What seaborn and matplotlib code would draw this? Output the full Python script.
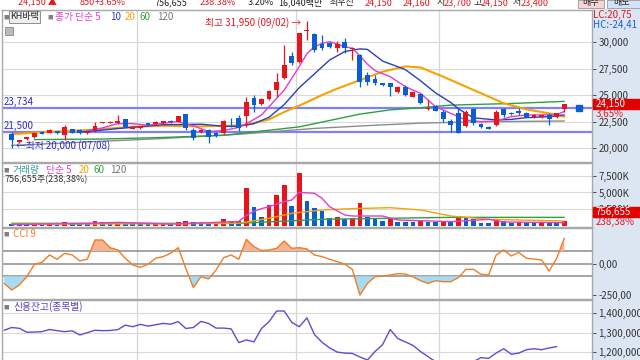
import matplotlib
matplotlib.use('Agg')
import matplotlib.pyplot as plt
import seaborn as sns
import numpy as np
from matplotlib.patches import Rectangle

# daily candles, index 0 = 07/08
opens = [21300, 20550, 20850, 21000, 21480, 21450, 21600, 21230, 21750, 21700,
         21400, 21700, 22400, 22400, 22350, 22700, 21800, 21850, 22330, 22250,
         22330, 22550, 22490, 23180, 21700, 21550, 21700, 21450, 21400, 22500,
         22800, 23050, 24690, 24120, 24630, 25470, 26580, 28710, 28150, 31050,
         30750, 29780, 29870, 29400, 30030, 29350, 28770, 26890, 26480, 26100,
         26170, 25320, 25790, 24850, 25070, 23700, 23970, 23370, 22580, 23270,
         22080, 23650, 22270, 22020, 22170, 23650, 23340, 23500, 23340, 22900,
         22900, 23120, 22900, 23700]
closes = [20750, 20750, 21000, 21450, 21330, 21700, 21400, 22000, 21450, 21400,
          21550, 22080, 22450, 22450, 22550, 22020, 22000, 22070, 22140, 22480,
          22520, 22420, 23020, 21860, 20920, 21700, 21000, 21130, 22550, 22420,
          21860, 24310, 24060, 24600, 25380, 26200, 27830, 28050, 30820, 31150,
          29250, 29400, 29560, 29780, 29400, 29420, 26260, 26260, 26100, 25950,
          25790, 25730, 25000, 25320, 24280, 23750, 23530, 22740, 22170, 21450,
          23430, 22330, 22020, 21800, 23430, 23120, 23180, 23270, 22960, 23120,
          23120, 22710, 23300, 24150]
highs = [21550, 20800, 21050, 21500, 21600, 21750, 21650, 22170, 21800, 21750,
         21600, 22490, 22500, 22550, 23100, 22750, 22050, 22100, 22400, 22550,
         22560, 22650, 23050, 23250, 21850, 21750, 21750, 21550, 22650, 22800,
         23120, 24850, 25000, 24700, 25450, 27050, 29720, 29030, 30820, 31950,
         30820, 30660, 30000, 30090, 30350, 29560, 28840, 27200, 26890, 26150,
         26170, 25850, 25950, 25320, 25100, 24530, 24050, 23590, 22710, 23650,
         23590, 23750, 22400, 22050, 23590, 23750, 23400, 23750, 23400, 23180,
         23200, 23270, 23300, 24150]
lows = [20000, 20450, 20800, 20950, 21300, 21400, 21300, 20760, 21400, 21350,
        21350, 21550, 22350, 22350, 22300, 21950, 21750, 21800, 22100, 22200,
        22300, 22350, 22450, 21700, 20760, 21450, 20450, 21000, 21350, 22000,
        21600, 22020, 23430, 24050, 24550, 24850, 26510, 27830, 27990, 30190,
        29090, 29250, 29400, 29090, 28930, 28300, 25790, 25950, 25950, 25850,
        24910, 25160, 24910, 24850, 24200, 23590, 23450, 22490, 21550, 21450,
        22020, 22170, 21900, 21750, 22110, 22960, 23100, 23120, 22900, 22850,
        22850, 22170, 22850, 23400]
volume_k = [260, 200, 180, 230, 200, 240, 200, 600, 350, 300,
            260, 760, 660, 300, 620, 450, 300, 280, 260, 300,
            330, 280, 600, 820, 650, 600, 420, 660, 1010, 760,
            750, 5620, 2890, 1300, 3140, 4630, 6120, 2990, 7850, 3730,
            2640, 2290, 1160, 1400, 1010, 1160, 3480, 1300, 1250, 810,
            1110, 660, 640, 620, 760, 610, 600, 660, 640, 1550,
            1160, 1010, 420, 410, 1060, 760, 420, 560, 510, 420,
            560, 420, 410, 757]

# price moving averages
ma5_x = [10, 12, 14, 16, 18, 20, 22, 24, 26, 28, 30, 31, 32, 33, 34, 35, 36, 37, 38, 39, 40,
         41, 42, 43, 44, 45, 46, 47, 48, 50, 52, 54, 56, 58, 60, 62, 64, 66, 68, 70, 72, 73]
ma5_y = [21650, 21900, 22300, 22300, 22150, 22330, 22500, 22100, 21550, 21650, 21950, 22300,
         22700, 23120, 23900, 24690, 25470, 26580, 27700, 28900, 29550, 29870, 30030, 29800,
         29560, 29400, 28700, 27900, 27300, 26730, 25790, 25160, 23900, 23270, 22650, 22490,
         22550, 22960, 23120, 23120, 23150, 23450]
ma10_x = [9, 15, 20, 25, 28, 30, 32, 34, 36, 38, 40, 42, 44, 46, 47, 49, 52, 54, 56, 58,
          59, 61, 64, 66, 68, 71, 73]
ma10_y = [21500, 21900, 22200, 22250, 22050, 22050, 22300, 22900, 24100, 25700, 27000, 28300,
          29100, 29350, 29300, 28200, 27400, 26350, 25200, 24300, 23700, 22850, 22650, 22700,
          22870, 22960, 23120]
ma20_x = [0, 3, 10, 16, 20, 25, 29, 31, 34, 36, 38, 41, 43, 46, 49, 52, 54, 57, 60, 63,
          65, 68, 71, 73]
ma20_y = [21300, 21450, 21700, 22000, 22100, 22050, 22100, 22200, 22700, 23400, 24000, 25000,
          25600, 26400, 27200, 27700, 27600, 26730, 25790, 24850, 24220, 23650, 23270, 22960]
ma60_x = [3, 12, 20, 28, 33, 38, 42, 46, 50, 54, 58, 66, 73]
ma60_y = [20800, 20850, 21000, 21200, 21600, 22000, 22600, 23200, 23600, 23800, 24050, 24200, 24400]
ma120_x = [0, 20, 30, 40, 48, 54, 62, 73]
ma120_y = [20250, 20900, 21300, 21850, 22150, 22350, 22480, 22550]

# volume moving averages (K)
vma5_x = [0, 10, 14, 17, 21, 26, 30, 31, 32, 33, 34, 36, 37, 38, 40, 41, 42, 44, 45, 49,
          51, 58, 63, 65, 73]
vma5_y = [230, 400, 560, 450, 300, 500, 700, 1600, 2200, 2600, 2890, 3640, 3880, 5020, 4880,
          4130, 2890, 1650, 1500, 1500, 910, 660, 1010, 610, 510]
vma20_x = [0, 20, 30, 34, 37, 41, 45, 50, 54, 58, 63, 73]
vma20_y = [300, 330, 410, 1160, 1900, 2400, 2600, 2740, 2400, 1500, 1010, 760]
vma60_x = [0, 30, 41, 58, 73]
vma60_y = [410, 410, 1010, 1300, 1300]

# CCI 9, index -1 .. 73
cci = [-156, -209, -169, -103, -5, 11, 69, 35, 82, 69,
       22, 37, 188, 188, 127, 109, 43, -10, -29, -5,
       43, 56, 82, 127, -37, -190, -103, -121, -50, 48,
       69, 35, 193, 135, 104, 109, 122, 180, 122, 127,
       117, 69, 56, 35, 16, -3, -45, -249, -156, -103,
       -98, -90, -79, -82, -103, -135, -156, -135, -143, -143,
       -111, -45, -45, -84, -90, 69, 109, 61, 90, 43,
       37, 29, -58, 43, 201]
# credit balance, index -1 .. 72
credit = [1312000, 1326000, 1322000, 1302000, 1303000, 1305000, 1316000, 1310000, 1305000, 1309000,
          1288000, 1300000, 1312000, 1310000, 1311000, 1315000, 1338000, 1330000, 1342000, 1333000,
          1340000, 1347000, 1343000, 1356000, 1321000, 1326000, 1357000, 1347000, 1323000, 1323000,
          1319000, 1249000, 1263000, 1253000, 1321000, 1356000, 1410000, 1410000, 1352000, 1330000,
          1375000, 1290000, 1251000, 1222000, 1201000, 1196000, 1194000, 1176000, 1161000, 1204000,
          1239000, 1316000, 1270000, 1253000, 1235000, 1204000, 1178000, 1152000, 1130000, 1120000,
          1125000, 1140000, 1152000, 1173000, 1169000, 1196000, 1218000, 1190000, 1196000, 1213000,
          1218000, 1213000, 1222000, 1229000]

RED = '#e8141c'
BLUE = '#0a5fd0'
PINK = '#e23ccf'
NAVY = '#2b3fb8'
ORANGE = '#f5a300'
GREEN = '#2ea043'
GRAY = '#8c8c8c'
HLINE = '#7f7fff'

sns.set_theme(style='white')
plt.rcParams['font.family'] = ['Noto Sans CJK KR', 'DejaVu Sans']

fig = plt.figure(figsize=(6.4, 3.6), dpi=100)


def fx(x):
    return x / 640


def fy(y):
    return 1 - y / 360


def panel(top, bottom):
    ax = fig.add_axes([fx(2), fy(bottom), fx(590), (bottom - top) / 360])
    ax.set_xlim(-1.28, 76.66)
    ax.set_xticks([])
    ax.yaxis.tick_right()
    ax.tick_params(axis='y', length=3, width=0.6, pad=1.5, labelsize=7, colors='#333333')
    for s in ax.spines.values():
        s.set_color('#a8a8a8')
        s.set_linewidth(1.0)
    for m in [16.5, 37.5, 56.5]:
        ax.axvline(m, color='#d6d6d6', lw=0.9, zorder=0)
    return ax


# right axis strip
fig.patches.append(Rectangle((fx(592), 0), fx(48), fy(9), transform=fig.transFigure,
                             color='#dce6f2', zorder=-5))

# ---------- price panel ----------
ax1 = panel(10, 162)
ax1.set_ylim(18684, 33018)
pticks = [20000, 22500, 25000, 27500, 30000]
ax1.set_yticks(pticks)
ax1.set_yticklabels([f'{v:,}' for v in pticks])
for v in pticks:
    ax1.axhline(v, color='#d9d9d9', lw=0.8, zorder=0)

ax1.axhline(23734, color=HLINE, lw=1.6, zorder=1)
ax1.axhline(21500, color=HLINE, lw=1.6, zorder=1)

for xs, ys, c in [(ma120_x, ma120_y, GRAY), (ma60_x, ma60_y, GREEN), (ma20_x, ma20_y, ORANGE),
                  (ma10_x, ma10_y, NAVY), (ma5_x, ma5_y, PINK)]:
    sns.lineplot(x=xs, y=ys, ax=ax1, color=c, lw=1.0 if c != ORANGE else 1.5, zorder=2)

idx = np.arange(len(closes))
o = np.array(opens)
c = np.array(closes)
ccol = [RED if cc >= oo else BLUE for oo, cc in zip(o, c)]
ax1.vlines(idx, lows, highs, colors=ccol, lw=0.9, zorder=3)
ax1.bar(idx, np.maximum(np.abs(c - o), 70), bottom=np.minimum(o, c), width=0.64,
        color=ccol, lw=0, zorder=4)
ax1.plot([75], [23734], marker='s', ms=4, color=BLUE, zorder=4)

ax1.text(-1.1, 23734 + 120, '23,734', color='#2a2ad0', fontsize=7, va='bottom')
ax1.text(-1.1, 21500 + 120, '21,500', color='#2a2ad0', fontsize=7, va='bottom')
ax1.text(38.3, 31790, '최고 31,950 (09/02) →', ha='right', va='center', color=RED, fontsize=7)
ax1.text(0.6, 20190, '←최저 20,000 (07/08)', ha='left', va='center', color='#2a2ad0', fontsize=7)

# ---------- volume panel ----------
ax2 = panel(163, 227)
ax2.set_ylim(-134, 9389)
vticks = [2500, 5000, 7500]
ax2.set_yticks(vticks)
ax2.set_yticklabels([f'{v:,}K' for v in vticks])
for v in vticks:
    ax2.axhline(v, color='#d9d9d9', lw=0.8, zorder=0)
vol = np.array(volume_k)
vcol = [BLUE] + [RED if vol[i] >= vol[i - 1] else BLUE for i in range(1, len(vol))]
ax2.bar(idx, vol, width=0.62, color=vcol, lw=0, zorder=2)
for xs, ys, cl in [(vma60_x, vma60_y, GREEN), (vma20_x, vma20_y, ORANGE), (vma5_x, vma5_y, PINK)]:
    sns.lineplot(x=xs, y=ys, ax=ax2, color=cl, lw=1.0, zorder=3)

# ---------- CCI panel ----------
ax3 = panel(228, 299)
ax3.set_ylim(-280, 283)
ax3.set_yticks([0, -250])
ax3.set_yticklabels(['0,00', '-250,00'])
for v in [100, 0, -100]:
    ax3.axhline(v, color='#8c8c8c', lw=1.1, zorder=1)
cx = np.arange(-1, len(cci) - 1)
cv = np.array(cci)
ax3.fill_between(cx, cv, 100, where=cv > 100, interpolate=True, color='#f7b28e', lw=0, zorder=2)
ax3.fill_between(cx, cv, -100, where=cv < -100, interpolate=True, color='#a6dcf2', lw=0, zorder=2)
sns.lineplot(x=cx, y=cv, ax=ax3, color='#f07d28', lw=1.0, zorder=3)

# ---------- credit panel ----------
ax4 = panel(300, 362)
ax4.set_ylim(1150500, 1466000)
kticks = [1200000, 1300000, 1400000]
ax4.set_yticks(kticks)
ax4.set_yticklabels([f'{v:,}' for v in kticks])
for v in kticks:
    ax4.axhline(v, color='#d9d9d9', lw=0.8, zorder=0)
sns.lineplot(x=np.arange(-1, len(credit) - 1), y=credit, ax=ax4, color='#5b4fd1', lw=1.0, zorder=3)

for a in (ax1, ax2, ax3, ax4):
    a.set_xlabel('')
    a.set_ylabel('')


# ---------- texts in figure pixels ----------
def t(x, y, s, color='#222222', size=7, **kw):
    fig.text(fx(x), fy(y), s, color=color, fontsize=size, va='center', **kw)


def box(x, y):
    t(x, y, '■', color='#808080', size=4)


# legends
box(3, 17)
t(10, 17, 'KH바텍', color='#222222', size=6.5,
  bbox=dict(boxstyle='square,pad=0.15', fc='#eeeeee', ec='#808080', lw=0.6))
box(47, 17)
t(55, 17, '종가 단순 5', color=PINK)
t(110, 17, '10', color=NAVY)
t(125, 17, '20', color=ORANGE)
t(140, 17, '60', color=GREEN)
t(157, 17, '120', color='#777777')
fig.patches.append(Rectangle((fx(5), fy(35)), fx(8), 8 / 360, transform=fig.transFigure,
                             fc='#bbbbbb', ec='#777777', lw=0.5, zorder=5))

box(3, 170)
t(13, 170, '거래량', color='#2aa0a0')
t(46, 170, '단순 5', color=PINK)
t(79, 170, '20', color=ORANGE)
t(94, 170, '60', color=GREEN)
t(110, 170, '120', color='#777777')
t(5, 180, '756,655주(238,38%)', color='#333333', size=6.5)

box(3, 234)
t(13, 234, 'CCI 9', color='#f07d28')
box(3, 307)
t(13, 307, '신용잔고(종목별)', color='#4b3fc0')

# right side labels
t(593, 15, 'LC:20,75', color=RED)
t(593, 25, 'HC:-24,41', color='#2060d0')
fig.patches.append(Rectangle((fx(593), fy(109)), fx(47), 10 / 360, transform=fig.transFigure,
                             color='#e00000', zorder=5))
t(596, 104, '24,150', color='white', zorder=6)
t(596, 114, '3,65%', color=RED, zorder=6)
fig.patches.append(Rectangle((fx(593), fy(217)), fx(47), 10 / 360, transform=fig.transFigure,
                             color='#e00000', zorder=5))
t(596, 212, '756,655', color='white', zorder=6)
t(596, 222, '238,38%', color=RED, zorder=6)

# top toolbar (cut at the top edge)
top_items = [(18, '24,150 ▲', RED), (80, '850', RED), (95, '+3.65%', RED),
             (155, '756,655', '#222222'), (200, '238.38%', RED), (248, '3.20%', '#222222'),
             (278, '16,040백만', '#222222'), (330, '최우선', '#222222'), (365, '24,150', RED),
             (403, '24,160', RED), (437, '시', '#222222'), (444, '23,700', RED),
             (473, '고', '#222222'), (481, '24,150', RED), (513, '저', '#222222'),
             (521, '23,400', RED)]
for x, s, col in top_items:
    fig.text(fx(x), fy(5), s, color=col, fontsize=6.5, va='baseline')
fig.patches.append(Rectangle((fx(578), fy(8)), fx(26), 8 / 360, transform=fig.transFigure,
                             fc='#f8d4d4', ec='#999999', lw=0.6, zorder=5))
fig.patches.append(Rectangle((fx(607), fy(8)), fx(33), 8 / 360, transform=fig.transFigure,
                             fc='#d4e2f8', ec='#999999', lw=0.6, zorder=5))
fig.text(fx(582), fy(5), '매수', color='#222222', fontsize=6.5, va='baseline', zorder=6)
fig.text(fx(613), fy(5), '매도', color='#222222', fontsize=6.5, va='baseline', zorder=6)

fig.savefig('out.png', dpi=100)
